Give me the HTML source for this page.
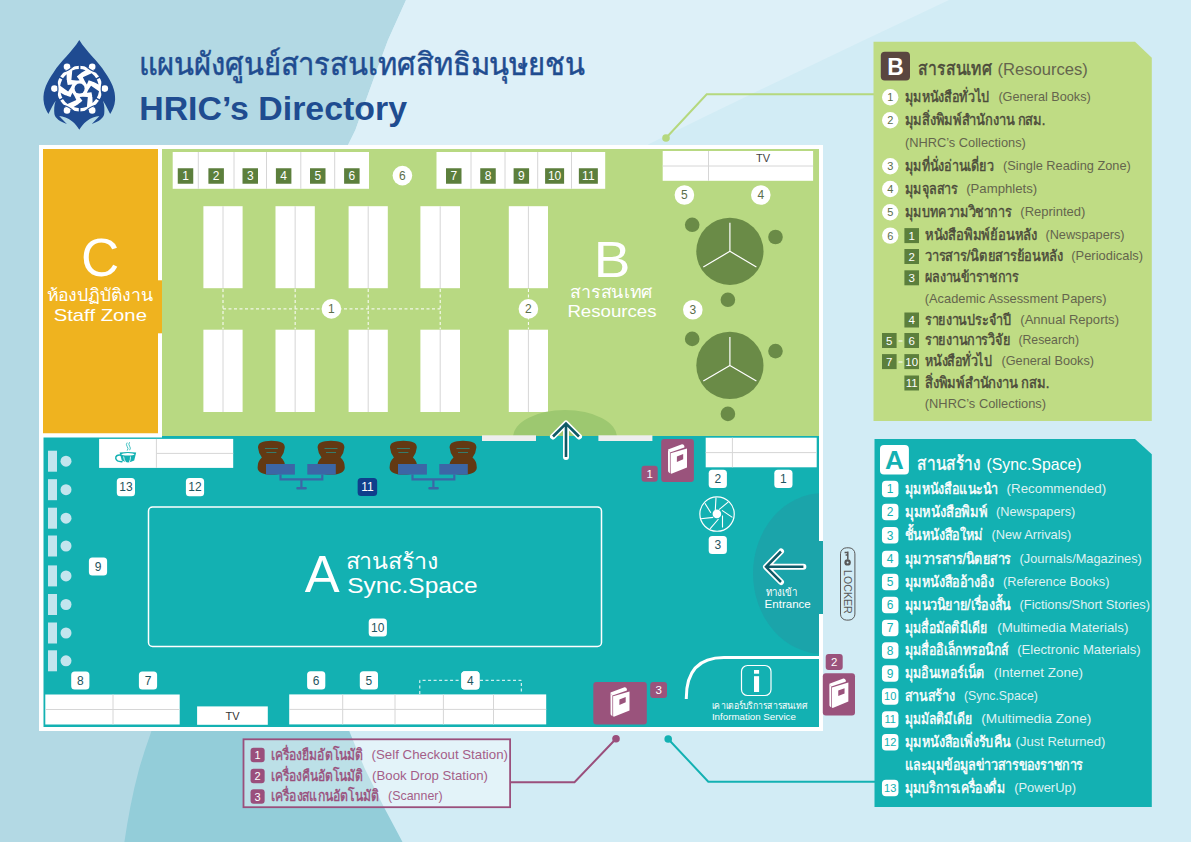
<!DOCTYPE html>
<html><head><meta charset="utf-8">
<style>
*{box-sizing:border-box;margin:0;padding:0}
html,body{width:1191px;height:842px;overflow:hidden}
body{position:relative;background:#b3d9e4;font-family:"Liberation Sans",sans-serif}
svg{position:absolute;left:0;top:0}
text{font-family:"Liberation Sans",sans-serif}
</style></head><body>
<svg width="1191" height="842" viewBox="0 0 1191 842">
<defs>
<clipPath id="cc"><circle cx="1288" cy="421" r="977"/></clipPath>
<clipPath id="zb"><rect x="162" y="149" width="657" height="287"/></clipPath>
<clipPath id="za"><rect x="43.5" y="436" width="775.5" height="291"/></clipPath>
</defs>

<path d="M153 710 L151.2 731.8 Q144 752 139.2 768.6 Q134 788 130.4 806.5 Q127 824 124.4 842 L700 842 L700 710Z" fill="#93cdd9"/>
<path d="M406 0 L388 40 Q370 88 355.4 130 L348 145 Q320 260 318 430 Q322 640 349.5 731.8 L364.7 768.6 L383.6 806.5 L402.5 842 L1191 842 L1191 0Z" fill="#d2ecf5"/>
<clipPath id="cc2"><path d="M406 0 L388 40 Q370 88 355.4 130 L348 145 Q320 260 318 430 Q322 640 349.5 731.8 L364.7 768.6 L383.6 806.5 L402.5 842 L1191 842 L1191 0Z"/></clipPath>
<path clip-path="url(#cc2)" d="M0 0 L949 0 Q800 70 649 144 L400 330 L0 330Z" fill="#ddf0f8"/>
<polyline points="666,138 706.7,94.3 874,94.3" fill="none" stroke="#b5d87e" stroke-width="2"/>
<circle cx="666" cy="138" r="3.8" fill="#b5d87e"/>
<polyline points="668.2,739 708.3,781.7 875,781.7" fill="none" stroke="#13b1b2" stroke-width="2"/>
<circle cx="668.2" cy="739" r="3.8" fill="#13b1b2"/>
<polyline points="511,782.2 574.5,782.2 616,738.8" fill="none" stroke="#9a4f7c" stroke-width="2"/>
<circle cx="616" cy="738.8" r="3.8" fill="#9a4f7c"/>
<rect x="39" y="145" width="784" height="586" fill="#fff"/>
<rect x="43" y="149" width="115" height="284.5" fill="#efb31f"/>
<rect x="157" y="280.3" width="6" height="53" fill="#efb31f"/>
<rect x="162" y="149" width="657" height="287" fill="#b8d982"/>
<rect x="43.5" y="436" width="775.5" height="291" fill="#13b1b2"/>
<rect x="818" y="541" width="5" height="73" fill="#13b1b2"/>
<rect x="39" y="433.5" width="123" height="4" fill="#fff"/>
<rect x="172.7" y="152" width="196.30" height="36.80" fill="#fff"/>
<line x1="198.3" y1="152" x2="198.3" y2="188.8" stroke="#d6d6d6" stroke-width="1"/>
<line x1="234" y1="152" x2="234" y2="188.8" stroke="#d6d6d6" stroke-width="1"/>
<line x1="266.5" y1="152" x2="266.5" y2="188.8" stroke="#d6d6d6" stroke-width="1"/>
<line x1="300.8" y1="152" x2="300.8" y2="188.8" stroke="#d6d6d6" stroke-width="1"/>
<line x1="334.7" y1="152" x2="334.7" y2="188.8" stroke="#d6d6d6" stroke-width="1"/>
<rect x="177.75" y="168.25" width="15.5" height="15.5" rx="0" fill="#5c7f3c"/>
<text x="185.50" y="180.32" font-size="12" fill="#fff" text-anchor="middle" >1</text>
<rect x="208.40" y="168.25" width="15.5" height="15.5" rx="0" fill="#5c7f3c"/>
<text x="216.15" y="180.32" font-size="12" fill="#fff" text-anchor="middle" >2</text>
<rect x="242.50" y="168.25" width="15.5" height="15.5" rx="0" fill="#5c7f3c"/>
<text x="250.25" y="180.32" font-size="12" fill="#fff" text-anchor="middle" >3</text>
<rect x="275.90" y="168.25" width="15.5" height="15.5" rx="0" fill="#5c7f3c"/>
<text x="283.65" y="180.32" font-size="12" fill="#fff" text-anchor="middle" >4</text>
<rect x="310.00" y="168.25" width="15.5" height="15.5" rx="0" fill="#5c7f3c"/>
<text x="317.75" y="180.32" font-size="12" fill="#fff" text-anchor="middle" >5</text>
<rect x="344.10" y="168.25" width="15.5" height="15.5" rx="0" fill="#5c7f3c"/>
<text x="351.85" y="180.32" font-size="12" fill="#fff" text-anchor="middle" >6</text>
<rect x="436.5" y="152" width="168.70" height="36.80" fill="#fff"/>
<line x1="471" y1="152" x2="471" y2="188.8" stroke="#d6d6d6" stroke-width="1"/>
<line x1="505" y1="152" x2="505" y2="188.8" stroke="#d6d6d6" stroke-width="1"/>
<line x1="537.7" y1="152" x2="537.7" y2="188.8" stroke="#d6d6d6" stroke-width="1"/>
<line x1="571.5" y1="152" x2="571.5" y2="188.8" stroke="#d6d6d6" stroke-width="1"/>
<rect x="446.00" y="168.25" width="15.5" height="15.5" rx="0" fill="#5c7f3c"/>
<text x="453.75" y="180.32" font-size="12" fill="#fff" text-anchor="middle" >7</text>
<rect x="480.25" y="168.25" width="15.5" height="15.5" rx="0" fill="#5c7f3c"/>
<text x="488.00" y="180.32" font-size="12" fill="#fff" text-anchor="middle" >8</text>
<rect x="513.60" y="168.25" width="15.5" height="15.5" rx="0" fill="#5c7f3c"/>
<text x="521.35" y="180.32" font-size="12" fill="#fff" text-anchor="middle" >9</text>
<rect x="545.10" y="168.25" width="19" height="15.5" rx="0" fill="#5c7f3c"/>
<text x="554.60" y="180.32" font-size="12" fill="#fff" text-anchor="middle" >10</text>
<rect x="578.85" y="168.25" width="19" height="15.5" rx="0" fill="#5c7f3c"/>
<text x="588.35" y="180.32" font-size="12" fill="#fff" text-anchor="middle" >11</text>
<circle cx="402.4" cy="175.6" r="9.8" fill="#fff"/>
<text x="402.4" y="179.92" font-size="12" fill="#5b6e4a" text-anchor="middle" >6</text>
<rect x="662.7" y="151" width="150.4" height="29.8" fill="#fff"/>
<line x1="662.7" y1="166" x2="813.1" y2="166" stroke="#d6d6d6"/>
<line x1="708.5" y1="151" x2="708.5" y2="180.8" stroke="#d6d6d6"/>
<text x="763" y="162" font-size="11" fill="#444" text-anchor="middle" >TV</text>
<circle cx="684.4" cy="195" r="9.8" fill="#fff"/>
<text x="684.4" y="199.32" font-size="12" fill="#5b6e4a" text-anchor="middle" >5</text>
<circle cx="760.8" cy="195" r="9.8" fill="#fff"/>
<text x="760.8" y="199.32" font-size="12" fill="#5b6e4a" text-anchor="middle" >4</text>
<circle cx="692.8" cy="309.8" r="9.8" fill="#fff"/>
<text x="692.8" y="314.12" font-size="12" fill="#5b6e4a" text-anchor="middle" >3</text>
<circle cx="729.9" cy="251.3" r="33.6" fill="#6a8b47"/>
<path d="M729.9 251.3 V222.8 M729.9 251.3 L703.3 267.0 M729.9 251.3 L756.4 267.0" stroke="#fff" stroke-width="1.2" fill="none"/>
<circle cx="692.2" cy="224.80" r="7.3" fill="#6a8b47"/>
<circle cx="775.5" cy="237.00" r="7.3" fill="#6a8b47"/>
<circle cx="727.9" cy="299.80" r="7.3" fill="#6a8b47"/>
<circle cx="729.9" cy="365.4" r="33.6" fill="#6a8b47"/>
<path d="M729.9 365.4 V336.9 M729.9 365.4 L703.3 381.09999999999997 M729.9 365.4 L756.4 381.09999999999997" stroke="#fff" stroke-width="1.2" fill="none"/>
<circle cx="692.2" cy="338.90" r="7.3" fill="#6a8b47"/>
<circle cx="775.5" cy="351.10" r="7.3" fill="#6a8b47"/>
<circle cx="727.9" cy="413.90" r="7.3" fill="#6a8b47"/>
<rect x="203.4" y="206.2" width="39.20" height="82.00" fill="#fff"/>
<line x1="223.0" y1="206.2" x2="223.0" y2="288.2" stroke="#d6d6d6" stroke-width="1"/>
<rect x="203.4" y="329.7" width="39.20" height="82.30" fill="#fff"/>
<line x1="223.0" y1="329.7" x2="223.0" y2="412" stroke="#d6d6d6" stroke-width="1"/>
<rect x="275.5" y="206.2" width="39.30" height="82.00" fill="#fff"/>
<line x1="295.15" y1="206.2" x2="295.15" y2="288.2" stroke="#d6d6d6" stroke-width="1"/>
<rect x="275.5" y="329.7" width="39.30" height="82.30" fill="#fff"/>
<line x1="295.15" y1="329.7" x2="295.15" y2="412" stroke="#d6d6d6" stroke-width="1"/>
<rect x="348.6" y="206.2" width="39.20" height="82.00" fill="#fff"/>
<line x1="368.20000000000005" y1="206.2" x2="368.20000000000005" y2="288.2" stroke="#d6d6d6" stroke-width="1"/>
<rect x="348.6" y="329.7" width="39.20" height="82.30" fill="#fff"/>
<line x1="368.20000000000005" y1="329.7" x2="368.20000000000005" y2="412" stroke="#d6d6d6" stroke-width="1"/>
<rect x="420.4" y="206.2" width="39.60" height="82.00" fill="#fff"/>
<line x1="440.2" y1="206.2" x2="440.2" y2="288.2" stroke="#d6d6d6" stroke-width="1"/>
<rect x="420.4" y="329.7" width="39.60" height="82.30" fill="#fff"/>
<line x1="440.2" y1="329.7" x2="440.2" y2="412" stroke="#d6d6d6" stroke-width="1"/>
<rect x="508.8" y="206.2" width="39.20" height="82.00" fill="#fff"/>
<line x1="528.4" y1="206.2" x2="528.4" y2="288.2" stroke="#d6d6d6" stroke-width="1"/>
<rect x="508.8" y="329.7" width="39.20" height="82.30" fill="#fff"/>
<line x1="528.4" y1="329.7" x2="528.4" y2="412" stroke="#d6d6d6" stroke-width="1"/>
<line x1="223" y1="308.9" x2="440.2" y2="308.9" stroke="#fff" stroke-width="1" stroke-dasharray="3,2.5" fill="none"/>
<line x1="223.0" y1="289" x2="223.0" y2="329" stroke="#fff" stroke-width="1" stroke-dasharray="3,2.5" fill="none"/>
<line x1="295.15" y1="289" x2="295.15" y2="329" stroke="#fff" stroke-width="1" stroke-dasharray="3,2.5" fill="none"/>
<line x1="368.20000000000005" y1="289" x2="368.20000000000005" y2="329" stroke="#fff" stroke-width="1" stroke-dasharray="3,2.5" fill="none"/>
<line x1="440.2" y1="289" x2="440.2" y2="329" stroke="#fff" stroke-width="1" stroke-dasharray="3,2.5" fill="none"/>
<line x1="528.4" y1="289" x2="528.4" y2="329" stroke="#fff" stroke-width="1" stroke-dasharray="3,2.5" fill="none"/>
<circle cx="331.4" cy="308.9" r="9.8" fill="#fff"/>
<text x="331.4" y="313.22" font-size="12" fill="#5b6e4a" text-anchor="middle" >1</text>
<circle cx="528.4" cy="308.9" r="9.8" fill="#fff"/>
<text x="528.4" y="313.22" font-size="12" fill="#5b6e4a" text-anchor="middle" >2</text>
<text transform="translate(612.2,277) scale(1.1,1)" font-size="50" fill="#fff" text-anchor="middle">B</text>
<text x="611.7" y="298" font-size="17" fill="#fff" text-anchor="middle" textLength="82.6" lengthAdjust="spacingAndGlyphs" >สารสนเทศ</text>
<text x="612" y="317.2" font-size="17" fill="#fff" text-anchor="middle" textLength="89.2" lengthAdjust="spacingAndGlyphs" >Resources</text>
<ellipse cx="565" cy="437" rx="52" ry="27" fill="#9dc870" clip-path="url(#zb)"/>
<rect x="482" y="435.3" width="54" height="5.7" fill="#eeeeee"/>
<rect x="598.4" y="435.3" width="54" height="5.7" fill="#eeeeee"/>
<path d="M566 424 V457 M553 436.5 L566 423.5 L579 436.5" stroke="#fff" stroke-width="6" stroke-linecap="round" stroke-linejoin="round" fill="none"/>
<path d="M566 424 V457 M553 436.5 L566 423.5 L579 436.5" stroke="#0f5b67" stroke-width="2.6" stroke-linecap="butt" stroke-linejoin="miter" fill="none"/>
<text transform="translate(100.1,276) scale(1.0,1)" font-size="53" fill="#fff" text-anchor="middle">C</text>
<text x="100.1" y="300.5" font-size="17" fill="#fff" text-anchor="middle" textLength="107" lengthAdjust="spacingAndGlyphs" >ห้องปฏิบัติงาน</text>
<text x="100.3" y="320.8" font-size="17" fill="#fff" text-anchor="middle" textLength="93.3" lengthAdjust="spacingAndGlyphs" >Staff Zone</text>
<rect x="48" y="450.7" width="9" height="21" fill="#c3e5ee"/>
<circle cx="66" cy="461.2" r="5.5" fill="#c3e5ee"/>
<rect x="48" y="479.2" width="9" height="21" fill="#c3e5ee"/>
<circle cx="66" cy="489.7" r="5.5" fill="#c3e5ee"/>
<rect x="48" y="507.7" width="9" height="21" fill="#c3e5ee"/>
<circle cx="66" cy="518.2" r="5.5" fill="#c3e5ee"/>
<rect x="48" y="535.5" width="9" height="21" fill="#c3e5ee"/>
<circle cx="66" cy="546.0" r="5.5" fill="#c3e5ee"/>
<rect x="48" y="565.4" width="9" height="21" fill="#c3e5ee"/>
<circle cx="66" cy="575.9" r="5.5" fill="#c3e5ee"/>
<rect x="48" y="594" width="9" height="21" fill="#c3e5ee"/>
<circle cx="66" cy="604.5" r="5.5" fill="#c3e5ee"/>
<rect x="48" y="622.5" width="9" height="21" fill="#c3e5ee"/>
<circle cx="66" cy="633.0" r="5.5" fill="#c3e5ee"/>
<rect x="48" y="650.3" width="9" height="21" fill="#c3e5ee"/>
<circle cx="66" cy="660.8" r="5.5" fill="#c3e5ee"/>
<rect x="99.1" y="438.9" width="134.1" height="29" fill="#fff"/>
<line x1="156.4" y1="438.9" x2="156.4" y2="467.9" stroke="#d6d6d6"/>
<line x1="156.4" y1="453.4" x2="233.2" y2="453.4" stroke="#d6d6d6"/>
<path d="M119.6 452.6 Q128 451.4 136.2 452.6 L134.2 460.6 Q128 464.2 121.8 460.6Z" fill="#13b1b2"/>
<ellipse cx="127.9" cy="454.3" rx="6.6" ry="1.3" fill="#fff"/>
<path d="M121 455.2 Q115.2 454.6 115.8 458.6 Q116.8 462 122.6 461.6" stroke="#13b1b2" stroke-width="1.5" fill="none"/>
<path d="M123.6 456.5 Q124 460 125.6 462 M130.5 456.5 Q130.6 459.8 129.4 462" stroke="#fff" stroke-width="0.8" fill="none"/>
<path d="M127.2 442.6 q-1.6 2 0 4 q1.6 2 0 4 M129.6 442.2 q-1.6 2 0 4 q1.6 2 0 4" stroke="#13b1b2" stroke-width="0.8" fill="none"/>
<rect x="116.80" y="478.00" width="18.2" height="18.2" rx="3.5" fill="#fff"/>
<text x="125.90" y="491.42" font-size="12" fill="#1d5560" text-anchor="middle" >13</text>
<rect x="185.90" y="478.00" width="18.2" height="18.2" rx="3.5" fill="#fff"/>
<text x="195.00" y="491.42" font-size="12" fill="#1d5560" text-anchor="middle" >12</text>
<rect x="88.90" y="557.40" width="18.2" height="18.2" rx="3.5" fill="#fff"/>
<text x="98.00" y="570.82" font-size="12" fill="#1d5560" text-anchor="middle" >9</text>
<rect x="71.20" y="671.40" width="18.2" height="18.2" rx="3.5" fill="#fff"/>
<text x="80.30" y="684.82" font-size="12" fill="#1d5560" text-anchor="middle" >8</text>
<rect x="138.90" y="671.40" width="18.2" height="18.2" rx="3.5" fill="#fff"/>
<text x="148.00" y="684.82" font-size="12" fill="#1d5560" text-anchor="middle" >7</text>
<rect x="307.10" y="671.20" width="18.2" height="18.2" rx="3.5" fill="#fff"/>
<text x="316.20" y="684.62" font-size="12" fill="#1d5560" text-anchor="middle" >6</text>
<rect x="359.80" y="671.20" width="18.2" height="18.2" rx="3.5" fill="#fff"/>
<text x="368.90" y="684.62" font-size="12" fill="#1d5560" text-anchor="middle" >5</text>
<rect x="461.30" y="671.20" width="18.2" height="18.2" rx="3.5" fill="#fff"/>
<text x="470.40" y="684.62" font-size="12" fill="#1d5560" text-anchor="middle" >4</text>
<rect x="708.70" y="469.70" width="18.2" height="18.2" rx="3.5" fill="#fff"/>
<text x="717.80" y="483.12" font-size="12" fill="#1d5560" text-anchor="middle" >2</text>
<rect x="774.30" y="469.70" width="18.2" height="18.2" rx="3.5" fill="#fff"/>
<text x="783.40" y="483.12" font-size="12" fill="#1d5560" text-anchor="middle" >1</text>
<rect x="708.70" y="535.90" width="18.2" height="18.2" rx="3.5" fill="#fff"/>
<text x="717.80" y="549.32" font-size="12" fill="#1d5560" text-anchor="middle" >3</text>
<rect x="368.70" y="618.40" width="18.2" height="18.2" rx="3.5" fill="#fff"/>
<text x="377.80" y="631.82" font-size="12" fill="#1d5560" text-anchor="middle" >10</text>
<rect x="148.5" y="507" width="453" height="139.5" rx="4" fill="none" stroke="#fff" stroke-width="1.5"/>
<text transform="translate(322.2,592.1) scale(1,1)" font-size="52.3" fill="#fff" text-anchor="middle">A</text>
<text x="345.6" y="569" font-size="22" fill="#fff" text-anchor="start" textLength="93" lengthAdjust="spacingAndGlyphs" >สานสร้าง</text>
<text x="347.2" y="593" font-size="22" fill="#fff" text-anchor="start" textLength="130.5" lengthAdjust="spacingAndGlyphs" >Sync.Space</text>
<path d="M258.0 447.5 Q257.79999999999995 440.8 271.4 440.8 Q285.0 440.8 284.79999999999995 447.5 Q284.4 453 280.9 457.5 Q285.2 461 285.2 467.5 Q284.9 474.6 271.4 474.6 Q257.59999999999997 474.6 257.59999999999997 467.5 Q257.59999999999997 461 261.9 457.5 Q258.4 453 258.0 447.5Z" fill="#633913"/>
<path d="M264.9 448.5 H277.9 M266.4 452.5 H276.4" stroke="#13b1b2" stroke-width="0.8" opacity="0.7"/>
<path d="M317.6 447.5 Q317.4 440.8 331 440.8 Q344.6 440.8 344.4 447.5 Q344 453 340.5 457.5 Q344.8 461 344.8 467.5 Q344.5 474.6 331 474.6 Q317.2 474.6 317.2 467.5 Q317.2 461 321.5 457.5 Q318 453 317.6 447.5Z" fill="#633913"/>
<path d="M324.5 448.5 H337.5 M326 452.5 H336" stroke="#13b1b2" stroke-width="0.8" opacity="0.7"/>
<rect x="266" y="464" width="28.9" height="10.6" fill="#3c66a6"/>
<rect x="307.3" y="464" width="28.5" height="10.6" fill="#3c66a6"/>
<path d="M280.5 474.6 V479.3 H322.3 V474.6 M301.4 479.3 V488" stroke="#3c66a6" stroke-width="2.2" fill="none"/>
<rect x="296.3" y="487" width="10.5" height="2.6" rx="1" fill="#3c66a6"/>
<path d="M390.0 447.5 Q389.79999999999995 440.8 403.4 440.8 Q417.0 440.8 416.79999999999995 447.5 Q416.4 453 412.9 457.5 Q417.2 461 417.2 467.5 Q416.9 474.6 403.4 474.6 Q389.59999999999997 474.6 389.59999999999997 467.5 Q389.59999999999997 461 393.9 457.5 Q390.4 453 390.0 447.5Z" fill="#633913"/>
<path d="M396.9 448.5 H409.9 M398.4 452.5 H408.4" stroke="#13b1b2" stroke-width="0.8" opacity="0.7"/>
<path d="M449.6 447.5 Q449.4 440.8 463 440.8 Q476.6 440.8 476.4 447.5 Q476 453 472.5 457.5 Q476.8 461 476.8 467.5 Q476.5 474.6 463 474.6 Q449.2 474.6 449.2 467.5 Q449.2 461 453.5 457.5 Q450 453 449.6 447.5Z" fill="#633913"/>
<path d="M456.5 448.5 H469.5 M458 452.5 H468" stroke="#13b1b2" stroke-width="0.8" opacity="0.7"/>
<rect x="398" y="464" width="28.9" height="10.6" fill="#3c66a6"/>
<rect x="439.3" y="464" width="28.5" height="10.6" fill="#3c66a6"/>
<path d="M412.5 474.6 V479.3 H454.3 V474.6 M433.4 479.3 V488" stroke="#3c66a6" stroke-width="2.2" fill="none"/>
<rect x="428.3" y="487" width="10.5" height="2.6" rx="1" fill="#3c66a6"/>
<rect x="357.65" y="478.00" width="19.5" height="18" rx="3.5" fill="#0f3f8c"/>
<text x="367.40" y="491.32" font-size="12" fill="#fff" text-anchor="middle" >11</text>
<rect x="45.3" y="694.5" width="134.4" height="30" fill="#fff"/>
<line x1="45.3" y1="709.5" x2="179.7" y2="709.5" stroke="#d6d6d6"/>
<line x1="113" y1="694.5" x2="113" y2="724.5" stroke="#d6d6d6"/>
<rect x="197.1" y="706.4" width="70.7" height="18.4" fill="#fff"/>
<text x="232.5" y="719.5" font-size="11" fill="#333" text-anchor="middle" >TV</text>
<rect x="289.2" y="694.4" width="257" height="30" fill="#fff"/>
<line x1="289.2" y1="709.4" x2="546.2" y2="709.4" stroke="#d6d6d6"/>
<line x1="342.7" y1="694.4" x2="342.7" y2="724.4" stroke="#d6d6d6"/>
<line x1="395" y1="694.4" x2="395" y2="724.4" stroke="#d6d6d6"/>
<line x1="443.4" y1="694.4" x2="443.4" y2="724.4" stroke="#d6d6d6"/>
<line x1="493.5" y1="694.4" x2="493.5" y2="724.4" stroke="#d6d6d6"/>
<path d="M419.8 694 V680.3 H461 M480 680.3 H521.3 V694" stroke="#fff" stroke-width="1" stroke-dasharray="3,2.5" fill="none"/>
<rect x="461.30" y="671.20" width="18.2" height="18.2" rx="3.5" fill="#fff"/>
<text x="470.40" y="684.62" font-size="12" fill="#1d5560" text-anchor="middle" >4</text>
<rect x="705.7" y="437.7" width="111" height="29.6" fill="#fff"/>
<line x1="705.7" y1="452.6" x2="816.7" y2="452.6" stroke="#d6d6d6"/>
<line x1="732.4" y1="437.7" x2="732.4" y2="467.3" stroke="#d6d6d6"/>
<circle cx="717.05" cy="514.05" r="17.2" fill="none" stroke="#fff" stroke-width="1.2"/>
<circle cx="716.9" cy="513.9" r="4.3" fill="#fff"/>
<path d="M715.3 510 L716 497.6 M719 509.6 L728.4 501.9 M722 510.4 L732.4 517.4 M722.5 515.5 L722.5 527.5 M718.5 519 L710 528.9 M713.2 517.4 L700.9 518.7 M710.8 512.8 L704.9 503.2" stroke="#fff" stroke-width="1.1"/>
<ellipse cx="823" cy="573.5" rx="70" ry="80.5" fill="#1ba4aa" clip-path="url(#za)"/>
<rect x="818" y="541" width="5" height="73" fill="#1ba4aa"/>
<path d="M766.5 566.8 H803.4 M781 551.5 L766 566.8 L781 582" stroke="#fff" stroke-width="6" stroke-linecap="round" stroke-linejoin="round" fill="none"/>
<path d="M766.5 566.8 H803.4 M781 551.5 L766 566.8 L781 582" stroke="#0f5b67" stroke-width="2.5" fill="none"/>
<text x="765.7" y="595.8" font-size="11" fill="#fff" text-anchor="start" textLength="31.7" lengthAdjust="spacingAndGlyphs" >ทางเข้า</text>
<text x="764.6" y="607.5" font-size="10.5" fill="#fff" text-anchor="start" textLength="46.2" lengthAdjust="spacingAndGlyphs" >Entrance</text>
<path d="M686.3 699 V698 Q686.3 657.5 724 657.5 H819" fill="none" stroke="#fff" stroke-width="3"/>
<rect x="741.5" y="665.5" width="29.5" height="30" rx="6" fill="none" stroke="#fff" stroke-width="1.2"/>
<rect x="754" y="670" width="5.1" height="3.7" fill="#fff"/><rect x="754" y="676.2" width="5.1" height="15.8" fill="#fff"/>
<text x="711.9" y="709" font-size="10" fill="#fff" text-anchor="start" textLength="95.3" lengthAdjust="spacingAndGlyphs" >เคาเตอร์บริการสารสนเทศ</text>
<text x="711.9" y="719.6" font-size="9" fill="#fff" text-anchor="start" textLength="84" lengthAdjust="spacingAndGlyphs" >Information Service</text>
<rect x="661.2" y="439" width="32.7" height="43" rx="3" fill="#9a537c"/>
<g transform="translate(661.20,439)"><path d="M6.8 10.5 L20.8 5.2 Q22.6 5 23.2 7 L23.2 8.6 L8.8 13.4 Q7.4 12.4 6.8 10.5Z" fill="#fff"/><path d="M9.4 14.2 L25.8 9.4 L25.8 28.4 L10.2 34.8 Q9.4 34.6 9.4 33.8Z" fill="#fff"/><path d="M6.8 10.6 Q7.6 12.6 8.7 13.3 L8.7 34.2 Q7.2 33.4 6.9 32.2Z" fill="#fff"/><path d="M15.7 17.4 L22 15 L22 20.2 L15.7 22.9Z" fill="#9a537c"/></g>
<rect x="641.50" y="465.70" width="16.2" height="16" rx="3" fill="#9a537c"/>
<text x="649.60" y="477.84" font-size="11.5" fill="#fff" text-anchor="middle" >1</text>
<rect x="593.3" y="682" width="53.5" height="42.4" rx="3" fill="#9a537c"/>
<g transform="translate(603.70,682)"><path d="M6.8 10.5 L20.8 5.2 Q22.6 5 23.2 7 L23.2 8.6 L8.8 13.4 Q7.4 12.4 6.8 10.5Z" fill="#fff"/><path d="M9.4 14.2 L25.8 9.4 L25.8 28.4 L10.2 34.8 Q9.4 34.6 9.4 33.8Z" fill="#fff"/><path d="M6.8 10.6 Q7.6 12.6 8.7 13.3 L8.7 34.2 Q7.2 33.4 6.9 32.2Z" fill="#fff"/><path d="M15.7 17.4 L22 15 L22 20.2 L15.7 22.9Z" fill="#9a537c"/></g>
<rect x="650.20" y="682.00" width="16.8" height="16" rx="3" fill="#9a537c"/>
<text x="658.60" y="694.14" font-size="11.5" fill="#fff" text-anchor="middle" >3</text>
<rect x="822.8" y="673.2" width="32.2" height="42.4" rx="3" fill="#9a537c"/>
<g transform="translate(822.55,673.2)"><path d="M6.8 10.5 L20.8 5.2 Q22.6 5 23.2 7 L23.2 8.6 L8.8 13.4 Q7.4 12.4 6.8 10.5Z" fill="#fff"/><path d="M9.4 14.2 L25.8 9.4 L25.8 28.4 L10.2 34.8 Q9.4 34.6 9.4 33.8Z" fill="#fff"/><path d="M6.8 10.6 Q7.6 12.6 8.7 13.3 L8.7 34.2 Q7.2 33.4 6.9 32.2Z" fill="#fff"/><path d="M15.7 17.4 L22 15 L22 20.2 L15.7 22.9Z" fill="#9a537c"/></g>
<rect x="825.70" y="654.10" width="17" height="16" rx="3" fill="#9a537c"/>
<text x="834.20" y="666.24" font-size="11.5" fill="#fff" text-anchor="middle" >2</text>
<rect x="840.5" y="547.8" width="14.4" height="72.3" rx="6" fill="none" stroke="#585858" stroke-width="1"/>
<circle cx="847.6" cy="562.4" r="3.2" fill="#585858"/><circle cx="847.6" cy="562.6" r="1" fill="#d2ecf5"/><path d="M847.8 559.5 V551.6 M848.4 552.4 H844.6 M848.4 555 H845.6" stroke="#585858" stroke-width="1.5" fill="none"/>
<text transform="translate(844,570) rotate(90)" font-size="10.5" fill="#585858" textLength="43.8" lengthAdjust="spacingAndGlyphs">LOCKER</text>
<text x="138.5" y="75.3" font-size="31" fill="#1f4c90" text-anchor="start" textLength="446" lengthAdjust="spacingAndGlyphs" stroke="#1f4c90" stroke-width="0.5">แผนผังศูนย์สารสนเทศสิทธิมนุษยชน</text>
<text x="139.2" y="119.9" font-size="33.5" fill="#1f4c90" text-anchor="start" font-weight="bold" textLength="267.8" lengthAdjust="spacingAndGlyphs" >HRIC’s Directory</text>
<path d="M79.3 40.1 C72 52 60 62 53.7 72.2 C47 82 43 90 43.5 100 C44 106 46 110 48.4 114.1 C50.5 110 53 104 55.7 100.7 C54 105 54 110 54.4 114.1 C55 118 60 122 66.9 124 C64.5 122 62 119 59.2 116.1 C63 116.5 68 118 72 121.2 C75 123.5 77.5 126.5 79.3 129.8 C81.1 126.5 83.6 123.5 86.6 121.2 C90.6 118 95.6 116.5 99.4 116.1 C96.6 119 94.1 122 91.7 124 C98.6 122 103.6 118 104.2 114.1 C104.6 110 104.6 105 102.9 100.7 C105.6 104 108.1 110 110.2 114.1 C112.6 110 114.6 106 115.1 100 C115.6 90 111.6 82 104.9 72.2 C98.6 62 86.6 52 79.3 40.1Z" fill="#1f4b91"/>
<circle cx="79.6" cy="88.6" r="22.8" fill="#fff"/>
<g fill="#fff"><circle cx="104.80" cy="88.60" r="3.3"/><circle cx="92.20" cy="110.42" r="3.3"/><circle cx="67.00" cy="110.42" r="3.3"/><circle cx="54.40" cy="88.60" r="3.3"/><circle cx="67.00" cy="66.78" r="3.3"/><circle cx="92.20" cy="66.78" r="3.3"/></g>
<path d="M72.26 70.43 L71.40 80.11 Q76.38 80.63 79.60 80.20 L76.81 76.52 Q80.44 72.62 85.59 70.15 A19.5 19.5 0 0 0 72.26 70.43Z M91.67 73.15 L82.85 77.26 Q84.89 81.82 86.87 84.40 L88.67 80.14 Q93.86 81.34 98.58 84.57 A19.5 19.5 0 0 0 91.67 73.15Z M99.01 91.33 L91.05 85.75 Q88.12 89.80 86.87 92.80 L91.46 92.23 Q93.02 97.31 92.58 103.02 A19.5 19.5 0 0 0 99.01 91.33Z M86.94 106.77 L87.80 97.09 Q82.82 96.57 79.60 97.00 L82.39 100.68 Q78.76 104.58 73.61 107.05 A19.5 19.5 0 0 0 86.94 106.77Z M67.53 104.05 L76.35 99.94 Q74.31 95.38 72.33 92.80 L70.53 97.06 Q65.34 95.86 60.62 92.63 A19.5 19.5 0 0 0 67.53 104.05Z M60.19 85.87 L68.15 91.45 Q71.08 87.40 72.33 84.40 L67.74 84.97 Q66.18 79.89 66.62 74.18 A19.5 19.5 0 0 0 60.19 85.87Z" fill="#1f4b91"/>
<path d="M92.59 96.10 L100.38 100.60 M79.60 103.60 L79.60 112.60 M66.61 96.10 L58.82 100.60 M66.61 81.10 L58.82 76.60 M79.60 73.60 L79.60 64.60 M92.59 81.10 L100.38 76.60" stroke="#1f4b91" stroke-width="1.6"/>
<path d="M102.29 82.09 Q100.20 88.60 102.29 95.11 M96.58 104.99 Q89.90 106.44 85.31 111.50 M73.89 111.50 Q69.30 106.44 62.62 104.99 M56.91 95.11 Q59.00 88.60 56.91 82.09 M62.62 72.21 Q69.30 70.76 73.89 65.70 M85.31 65.70 Q89.90 70.76 96.58 72.21" stroke="#1f4b91" stroke-width="1.2" fill="none"/>
<circle cx="79.6" cy="88.6" r="5" fill="#1f4b91"/>
<path d="M873.5 41.7 H1135 L1151.8 57.8 V420.9 H873.5Z" fill="#bfdc84"/>
<path d="M874.5 438.9 H1135 L1151.8 454.2 V807 H874.5Z" fill="#13b1b2"/>
<rect x="880.8" y="51.7" width="29.2" height="28.9" rx="4" fill="#5a4640"/>
<text x="895.6" y="75.4" font-size="24" fill="#fff" text-anchor="middle" font-weight="bold" textLength="16.5" lengthAdjust="spacingAndGlyphs" >B</text>
<text x="918.4" y="75" font-size="19" fill="#4b4a3a" text-anchor="start" textLength="73.6" lengthAdjust="spacingAndGlyphs" stroke="#4b4a3a" stroke-width="0.5">สารสนเทศ</text>
<text x="997.6" y="75" font-size="17" fill="#64654d" text-anchor="start" textLength="90.3" lengthAdjust="spacingAndGlyphs" >(Resources)</text>
<circle cx="890.2" cy="97.3" r="8.2" fill="#fff"/>
<text x="890.2" y="101.26" font-size="11" fill="#5b6e4a" text-anchor="middle" >1</text>
<text x="904.9" y="101.90" font-size="15" fill="#4b4a3a" text-anchor="start" textLength="84.8" lengthAdjust="spacingAndGlyphs" stroke="#4b4a3a" stroke-width="0.45">มุมหนังสือทั่วไป</text>
<text x="998.4" y="101.10" font-size="13.5" fill="#64654d" text-anchor="start" textLength="92.4" lengthAdjust="spacingAndGlyphs" >(General Books)</text>
<circle cx="890.2" cy="120.3" r="8.2" fill="#fff"/>
<text x="890.2" y="124.26" font-size="11" fill="#5b6e4a" text-anchor="middle" >2</text>
<text x="904.9" y="124.90" font-size="15" fill="#4b4a3a" text-anchor="start" textLength="140.5" lengthAdjust="spacingAndGlyphs" stroke="#4b4a3a" stroke-width="0.45">มุมสิ่งพิมพ์สำนักงาน กสม.</text>
<text x="904.9" y="147.00" font-size="13.5" fill="#64654d" text-anchor="start" textLength="121.0" lengthAdjust="spacingAndGlyphs" >(NHRC’s Collections)</text>
<circle cx="890.2" cy="166.2" r="8.2" fill="#fff"/>
<text x="890.2" y="170.16" font-size="11" fill="#5b6e4a" text-anchor="middle" >3</text>
<text x="904.9" y="170.80" font-size="15" fill="#4b4a3a" text-anchor="start" textLength="88.8" lengthAdjust="spacingAndGlyphs" stroke="#4b4a3a" stroke-width="0.45">มุมที่นั่งอ่านเดี่ยว</text>
<text x="1003.1" y="170.00" font-size="13.5" fill="#64654d" text-anchor="start" textLength="127.7" lengthAdjust="spacingAndGlyphs" >(Single Reading Zone)</text>
<circle cx="890.2" cy="189.0" r="8.2" fill="#fff"/>
<text x="890.2" y="192.96" font-size="11" fill="#5b6e4a" text-anchor="middle" >4</text>
<text x="904.9" y="193.60" font-size="15" fill="#4b4a3a" text-anchor="start" textLength="52.8" lengthAdjust="spacingAndGlyphs" stroke="#4b4a3a" stroke-width="0.45">มุมจุลสาร</text>
<text x="966.2" y="192.80" font-size="13.5" fill="#64654d" text-anchor="start" textLength="71.0" lengthAdjust="spacingAndGlyphs" >(Pamphlets)</text>
<circle cx="890.2" cy="212.2" r="8.2" fill="#fff"/>
<text x="890.2" y="216.16" font-size="11" fill="#5b6e4a" text-anchor="middle" >5</text>
<text x="904.9" y="216.80" font-size="15" fill="#4b4a3a" text-anchor="start" textLength="106.4" lengthAdjust="spacingAndGlyphs" stroke="#4b4a3a" stroke-width="0.45">มุมบทความวิชาการ</text>
<text x="1020.3" y="216.00" font-size="13.5" fill="#64654d" text-anchor="start" textLength="65.1" lengthAdjust="spacingAndGlyphs" >(Reprinted)</text>
<circle cx="890.2" cy="235.6" r="8.2" fill="#fff"/>
<text x="890.2" y="239.56" font-size="11" fill="#5b6e4a" text-anchor="middle" >6</text>
<rect x="904.40" y="228.10" width="14.6" height="15" rx="0" fill="#5c7f3c"/>
<text x="911.70" y="239.74" font-size="11.5" fill="#fff" text-anchor="middle" >1</text>
<text x="924.8" y="240.20" font-size="15" fill="#4b4a3a" text-anchor="start" textLength="112.4" lengthAdjust="spacingAndGlyphs" stroke="#4b4a3a" stroke-width="0.45">หนังสือพิมพ์ย้อนหลัง</text>
<text x="1045.4" y="239.40" font-size="13.5" fill="#64654d" text-anchor="start" textLength="79.2" lengthAdjust="spacingAndGlyphs" >(Newspapers)</text>
<rect x="904.40" y="249.00" width="14.6" height="15" rx="0" fill="#5c7f3c"/>
<text x="911.70" y="260.64" font-size="11.5" fill="#fff" text-anchor="middle" >2</text>
<text x="924.8" y="261.10" font-size="15" fill="#4b4a3a" text-anchor="start" textLength="138.2" lengthAdjust="spacingAndGlyphs" stroke="#4b4a3a" stroke-width="0.45">วารสาร/นิตยสารย้อนหลัง</text>
<text x="1071.3" y="260.30" font-size="13.5" fill="#64654d" text-anchor="start" textLength="71.7" lengthAdjust="spacingAndGlyphs" >(Periodicals)</text>
<rect x="904.40" y="270.30" width="14.6" height="15" rx="0" fill="#5c7f3c"/>
<text x="911.70" y="281.94" font-size="11.5" fill="#fff" text-anchor="middle" >3</text>
<text x="924.8" y="282.40" font-size="15" fill="#4b4a3a" text-anchor="start" textLength="93.6" lengthAdjust="spacingAndGlyphs" stroke="#4b4a3a" stroke-width="0.45">ผลงานข้าราชการ</text>
<text x="924.8" y="302.80" font-size="13.5" fill="#64654d" text-anchor="start" textLength="181.7" lengthAdjust="spacingAndGlyphs" >(Academic Assessment Papers)</text>
<rect x="904.40" y="312.50" width="14.6" height="15" rx="0" fill="#5c7f3c"/>
<text x="911.70" y="324.14" font-size="11.5" fill="#fff" text-anchor="middle" >4</text>
<text x="924.8" y="324.60" font-size="15" fill="#4b4a3a" text-anchor="start" textLength="86.5" lengthAdjust="spacingAndGlyphs" stroke="#4b4a3a" stroke-width="0.45">รายงานประจำปี</text>
<text x="1020.3" y="323.80" font-size="13.5" fill="#64654d" text-anchor="start" textLength="98.7" lengthAdjust="spacingAndGlyphs" >(Annual Reports)</text>
<rect x="904.40" y="333.00" width="14.6" height="15" rx="0" fill="#5c7f3c"/>
<text x="911.70" y="344.64" font-size="11.5" fill="#fff" text-anchor="middle" >6</text>
<text x="924.8" y="345.10" font-size="15" fill="#4b4a3a" text-anchor="start" textLength="85.4" lengthAdjust="spacingAndGlyphs" stroke="#4b4a3a" stroke-width="0.45">รายงานการวิจัย</text>
<text x="1018.4" y="344.30" font-size="13.5" fill="#64654d" text-anchor="start" textLength="60.6" lengthAdjust="spacingAndGlyphs" >(Research)</text>
<rect x="904.40" y="354.10" width="14.6" height="15" rx="0" fill="#5c7f3c"/>
<text x="911.70" y="365.74" font-size="11.5" fill="#fff" text-anchor="middle" >10</text>
<text x="924.8" y="366.20" font-size="15" fill="#4b4a3a" text-anchor="start" textLength="67.7" lengthAdjust="spacingAndGlyphs" stroke="#4b4a3a" stroke-width="0.45">หนังสือทั่วไป</text>
<text x="1001.5" y="365.40" font-size="13.5" fill="#64654d" text-anchor="start" textLength="92.5" lengthAdjust="spacingAndGlyphs" >(General Books)</text>
<rect x="904.40" y="375.50" width="14.6" height="15" rx="0" fill="#5c7f3c"/>
<text x="911.70" y="387.14" font-size="11.5" fill="#fff" text-anchor="middle" >11</text>
<text x="924.8" y="387.60" font-size="15" fill="#4b4a3a" text-anchor="start" textLength="124.6" lengthAdjust="spacingAndGlyphs" stroke="#4b4a3a" stroke-width="0.45">สิ่งพิมพ์สำนักงาน กสม.</text>
<text x="924.8" y="407.80" font-size="13.5" fill="#64654d" text-anchor="start" textLength="121.3" lengthAdjust="spacingAndGlyphs" >(NHRC’s Collections)</text>
<rect x="882.00" y="333.00" width="14.6" height="15" rx="0" fill="#5c7f3c"/>
<text x="889.30" y="344.64" font-size="11.5" fill="#fff" text-anchor="middle" >5</text>
<rect x="882.00" y="354.10" width="14.6" height="15" rx="0" fill="#5c7f3c"/>
<text x="889.30" y="365.74" font-size="11.5" fill="#fff" text-anchor="middle" >7</text>
<path d="M898.5 341 H902.5 M898.5 362 H902.5" stroke="#fff" stroke-width="1"/>
<rect x="880" y="445" width="28.9" height="29.5" rx="4" fill="#fff"/>
<text x="894.5" y="468.6" font-size="26" fill="#13b1b2" text-anchor="middle" font-weight="bold" >A</text>
<text x="917" y="469.5" font-size="19" fill="#fff" text-anchor="start" textLength="63.3" lengthAdjust="spacingAndGlyphs" stroke="#fff" stroke-width="0.4">สานสร้าง</text>
<text x="986.5" y="469.5" font-size="17" fill="#fff" text-anchor="start" textLength="95" lengthAdjust="spacingAndGlyphs" >(Sync.Space)</text>
<rect x="881.95" y="480.65" width="16.5" height="16.5" rx="4" fill="#fff"/>
<text x="890.20" y="493.22" font-size="12" fill="#13b1b2" text-anchor="middle" >1</text>
<text x="904.9" y="493.50" font-size="15" fill="#fff" text-anchor="start" textLength="92.8" lengthAdjust="spacingAndGlyphs" stroke="#fff" stroke-width="0.45">มุมหนังสือแนะนำ</text>
<text x="1006.6" y="492.70" font-size="13.5" fill="#dff2f2" text-anchor="start" textLength="99.5" lengthAdjust="spacingAndGlyphs" >(Recommended)</text>
<rect x="881.95" y="503.75" width="16.5" height="16.5" rx="4" fill="#fff"/>
<text x="890.20" y="516.32" font-size="12" fill="#13b1b2" text-anchor="middle" >2</text>
<text x="904.9" y="516.60" font-size="15" fill="#fff" text-anchor="start" textLength="82.5" lengthAdjust="spacingAndGlyphs" stroke="#fff" stroke-width="0.45">มุมหนังสือพิมพ์</text>
<text x="996.1" y="515.80" font-size="13.5" fill="#dff2f2" text-anchor="start" textLength="79.2" lengthAdjust="spacingAndGlyphs" >(Newspapers)</text>
<rect x="881.95" y="527.05" width="16.5" height="16.5" rx="4" fill="#fff"/>
<text x="890.20" y="539.62" font-size="12" fill="#13b1b2" text-anchor="middle" >3</text>
<text x="904.9" y="539.90" font-size="15" fill="#fff" text-anchor="start" textLength="77.8" lengthAdjust="spacingAndGlyphs" stroke="#fff" stroke-width="0.45">ชั้นหนังสือใหม่</text>
<text x="991.4" y="539.10" font-size="13.5" fill="#dff2f2" text-anchor="start" textLength="79.9" lengthAdjust="spacingAndGlyphs" >(New Arrivals)</text>
<rect x="881.95" y="550.75" width="16.5" height="16.5" rx="4" fill="#fff"/>
<text x="890.20" y="563.32" font-size="12" fill="#13b1b2" text-anchor="middle" >4</text>
<text x="904.9" y="563.60" font-size="15" fill="#fff" text-anchor="start" textLength="106.0" lengthAdjust="spacingAndGlyphs" stroke="#fff" stroke-width="0.45">มุมวารสาร/นิตยสาร</text>
<text x="1019.6" y="562.80" font-size="13.5" fill="#dff2f2" text-anchor="start" textLength="122.2" lengthAdjust="spacingAndGlyphs" >(Journals/Magazines)</text>
<rect x="881.95" y="573.75" width="16.5" height="16.5" rx="4" fill="#fff"/>
<text x="890.20" y="586.32" font-size="12" fill="#13b1b2" text-anchor="middle" >5</text>
<text x="904.9" y="586.60" font-size="15" fill="#fff" text-anchor="start" textLength="88.8" lengthAdjust="spacingAndGlyphs" stroke="#fff" stroke-width="0.45">มุมหนังสืออ้างอิง</text>
<text x="1003.1" y="585.80" font-size="13.5" fill="#dff2f2" text-anchor="start" textLength="106.3" lengthAdjust="spacingAndGlyphs" >(Reference Books)</text>
<rect x="881.95" y="596.75" width="16.5" height="16.5" rx="4" fill="#fff"/>
<text x="890.20" y="609.32" font-size="12" fill="#13b1b2" text-anchor="middle" >6</text>
<text x="904.9" y="609.60" font-size="15" fill="#fff" text-anchor="start" textLength="106.0" lengthAdjust="spacingAndGlyphs" stroke="#fff" stroke-width="0.45">มุมนวนิยาย/เรื่องสั้น</text>
<text x="1019.6" y="608.80" font-size="13.5" fill="#dff2f2" text-anchor="start" textLength="130.4" lengthAdjust="spacingAndGlyphs" >(Fictions/Short Stories)</text>
<rect x="881.95" y="619.75" width="16.5" height="16.5" rx="4" fill="#fff"/>
<text x="890.20" y="632.32" font-size="12" fill="#13b1b2" text-anchor="middle" >7</text>
<text x="904.9" y="632.60" font-size="15" fill="#fff" text-anchor="start" textLength="82.5" lengthAdjust="spacingAndGlyphs" stroke="#fff" stroke-width="0.45">มุมสื่อมัลติมีเดีย</text>
<text x="997.2" y="631.80" font-size="13.5" fill="#dff2f2" text-anchor="start" textLength="131.2" lengthAdjust="spacingAndGlyphs" >(Multimedia Materials)</text>
<rect x="881.95" y="642.35" width="16.5" height="16.5" rx="4" fill="#fff"/>
<text x="890.20" y="654.92" font-size="12" fill="#13b1b2" text-anchor="middle" >8</text>
<text x="904.9" y="655.20" font-size="15" fill="#fff" text-anchor="start" textLength="103.6" lengthAdjust="spacingAndGlyphs" stroke="#fff" stroke-width="0.45">มุมสื่ออิเล็กทรอนิกส์</text>
<text x="1017.2" y="654.40" font-size="13.5" fill="#dff2f2" text-anchor="start" textLength="123.4" lengthAdjust="spacingAndGlyphs" >(Electronic Materials)</text>
<rect x="881.95" y="665.15" width="16.5" height="16.5" rx="4" fill="#fff"/>
<text x="890.20" y="677.72" font-size="12" fill="#13b1b2" text-anchor="middle" >9</text>
<text x="904.9" y="678.00" font-size="15" fill="#fff" text-anchor="start" textLength="79.4" lengthAdjust="spacingAndGlyphs" stroke="#fff" stroke-width="0.45">มุมอินเทอร์เน็ต</text>
<text x="993.7" y="677.20" font-size="13.5" fill="#dff2f2" text-anchor="start" textLength="89.3" lengthAdjust="spacingAndGlyphs" >(Internet Zone)</text>
<rect x="881.95" y="688.15" width="16.5" height="16.5" rx="4" fill="#fff"/>
<text x="890.20" y="700.36" font-size="11" fill="#13b1b2" text-anchor="middle" >10</text>
<text x="904.9" y="701.00" font-size="15" fill="#fff" text-anchor="start" textLength="49.6" lengthAdjust="spacingAndGlyphs" stroke="#fff" stroke-width="0.45">สานสร้าง</text>
<text x="963.9" y="700.20" font-size="13.5" fill="#dff2f2" text-anchor="start" textLength="74.0" lengthAdjust="spacingAndGlyphs" >(Sync.Space)</text>
<rect x="881.95" y="711.25" width="16.5" height="16.5" rx="4" fill="#fff"/>
<text x="890.20" y="723.46" font-size="11" fill="#13b1b2" text-anchor="middle" >11</text>
<text x="904.9" y="724.10" font-size="15" fill="#fff" text-anchor="start" textLength="67.0" lengthAdjust="spacingAndGlyphs" stroke="#fff" stroke-width="0.45">มุมมัลติมีเดีย</text>
<text x="981.3" y="723.30" font-size="13.5" fill="#dff2f2" text-anchor="start" textLength="110.0" lengthAdjust="spacingAndGlyphs" >(Multimedia Zone)</text>
<rect x="881.95" y="734.05" width="16.5" height="16.5" rx="4" fill="#fff"/>
<text x="890.20" y="746.26" font-size="11" fill="#13b1b2" text-anchor="middle" >12</text>
<text x="904.9" y="746.90" font-size="15" fill="#fff" text-anchor="start" textLength="106.0" lengthAdjust="spacingAndGlyphs" stroke="#fff" stroke-width="0.45">มุมหนังสือเพิ่งรับคืน</text>
<text x="1015.6" y="746.10" font-size="13.5" fill="#dff2f2" text-anchor="start" textLength="89.8" lengthAdjust="spacingAndGlyphs" >(Just Returned)</text>
<text x="904.9" y="769.60" font-size="15" fill="#fff" text-anchor="start" textLength="178.1" lengthAdjust="spacingAndGlyphs" stroke="#fff" stroke-width="0.45">และมุมข้อมูลข่าวสารของราชการ</text>
<rect x="881.95" y="779.75" width="16.5" height="16.5" rx="4" fill="#fff"/>
<text x="890.20" y="791.96" font-size="11" fill="#13b1b2" text-anchor="middle" >13</text>
<text x="904.9" y="792.60" font-size="15" fill="#fff" text-anchor="start" textLength="99.9" lengthAdjust="spacingAndGlyphs" stroke="#fff" stroke-width="0.45">มุมบริการเครื่องดื่ม</text>
<text x="1014.2" y="791.80" font-size="13.5" fill="#dff2f2" text-anchor="start" textLength="61.8" lengthAdjust="spacingAndGlyphs" >(PowerUp)</text>
<rect x="243.5" y="739.3" width="266.6" height="67.9" fill="#fff" fill-opacity="0.38" stroke="#9a4f7c" stroke-width="1.8"/>
<rect x="250.55" y="747.75" width="14.1" height="14.5" rx="3" fill="#9a4f7c"/>
<text x="257.60" y="758.96" font-size="11" fill="#fff" text-anchor="middle" >1</text>
<text x="270.6" y="759.60" font-size="15" fill="#9a4f7c" text-anchor="start" textLength="92.8" lengthAdjust="spacingAndGlyphs" stroke="#9a4f7c" stroke-width="0.45">เครื่องยืมอัตโนมัติ</text>
<text x="371.6" y="758.80" font-size="13.5" fill="#a45e88" text-anchor="start" textLength="136.4" lengthAdjust="spacingAndGlyphs" >(Self Checkout Station)</text>
<rect x="250.55" y="768.85" width="14.1" height="14.5" rx="3" fill="#9a4f7c"/>
<text x="257.60" y="780.06" font-size="11" fill="#fff" text-anchor="middle" >2</text>
<text x="270.6" y="780.70" font-size="15" fill="#9a4f7c" text-anchor="start" textLength="92.8" lengthAdjust="spacingAndGlyphs" stroke="#9a4f7c" stroke-width="0.45">เครื่องคืนอัตโนมัติ</text>
<text x="372.1" y="779.90" font-size="13.5" fill="#a45e88" text-anchor="start" textLength="115.9" lengthAdjust="spacingAndGlyphs" >(Book Drop Station)</text>
<rect x="250.55" y="789.35" width="14.1" height="14.5" rx="3" fill="#9a4f7c"/>
<text x="257.60" y="800.56" font-size="11" fill="#fff" text-anchor="middle" >3</text>
<text x="270.6" y="801.20" font-size="15" fill="#9a4f7c" text-anchor="start" textLength="108.6" lengthAdjust="spacingAndGlyphs" stroke="#9a4f7c" stroke-width="0.45">เครื่องสแกนอัตโนมัติ</text>
<text x="388.1" y="800.40" font-size="13.5" fill="#a45e88" text-anchor="start" textLength="54.5" lengthAdjust="spacingAndGlyphs" >(Scanner)</text>
</svg></body></html>
